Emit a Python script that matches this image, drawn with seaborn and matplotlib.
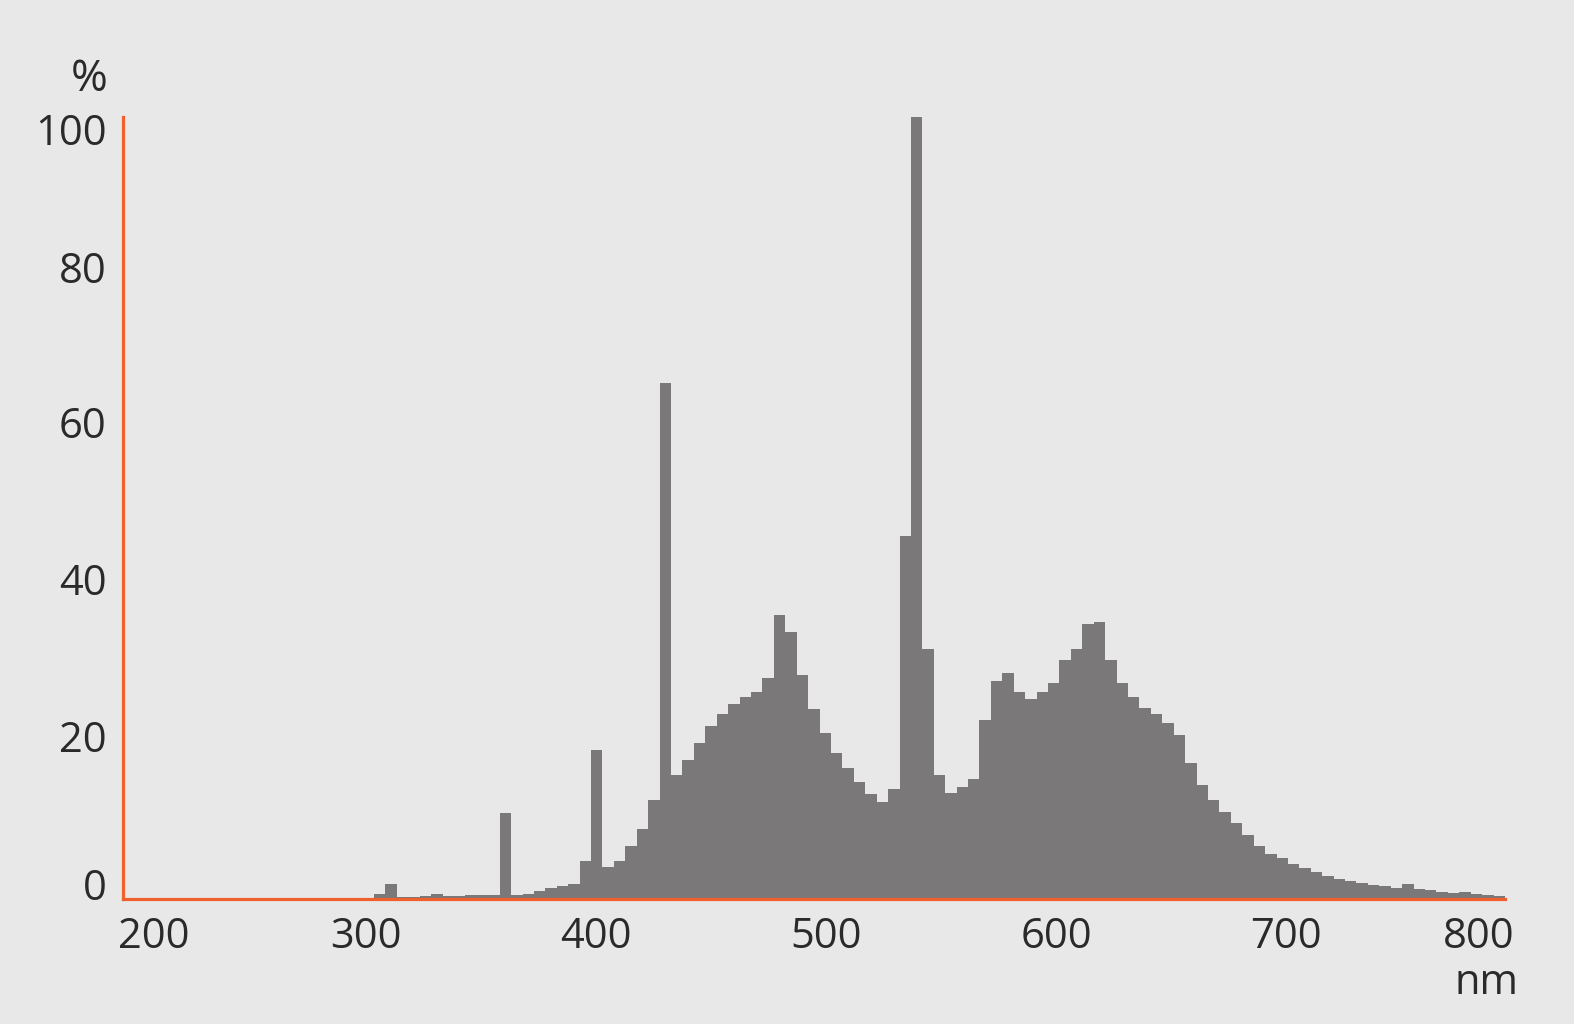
import matplotlib
matplotlib.use("Agg")
import matplotlib.pyplot as plt
import matplotlib.transforms as mtransforms
import seaborn as sns
import pandas as pd

# spectrum, 5 nm bins centred on 200..800 nm
wavelengths = list(range(200, 805, 5))
intensity = [0] * 22 + [
    0.6, 1.9, 0.2, 0.3, 0.35, 0.7, 0.4, 0.4, 0.45, 0.45,          # 310-355
    0.55, 11.0, 0.5, 0.7, 1.0, 1.4, 1.7, 1.9, 4.9, 19.0,          # 360-405
    4.1, 4.9, 6.8, 9.0, 12.7, 66.0, 15.8, 17.8, 20.0, 22.1,       # 410-455
    23.6, 24.9, 25.8, 26.5, 28.2, 36.3, 34.1, 28.6, 24.3, 21.2,   # 460-505
    18.7, 16.8, 14.9, 13.4, 12.4, 14.1, 46.4, 100.0, 31.9, 15.8,  # 510-555
    13.6, 14.3, 15.3, 22.9, 27.8, 28.9, 26.4, 25.5, 26.4, 27.6,   # 560-605
    30.5, 31.9, 35.1, 35.4, 30.5, 27.6, 25.8, 24.4, 23.6, 22.5,   # 610-655
    20.9, 17.4, 14.6, 12.6, 11.1, 9.7, 8.2, 6.8, 5.8, 5.2,        # 660-705
    4.5, 3.9, 3.5, 2.9, 2.6, 2.3, 2.1, 1.8, 1.6, 1.4,             # 710-755
    1.9, 1.3, 1.1, 0.9, 0.8, 0.9, 0.6, 0.5, 0.4,                  # 760-800
]
x_ticks = [200, 300, 400, 500, 600, 700, 800]
y_ticks = [0, 20, 40, 60, 80, 100]

bg = "#e8e8e8"
bar_col = "#7a7879"
axis_col = "#f0602c"
txt_col = "#2a2a2a"

sns.set_theme(style="white")
plt.rcParams['font.family'] = ['Open Sans', 'DejaVu Sans']

df = pd.DataFrame({"nm": wavelengths, "pct": intensity})

fig = plt.figure(figsize=(15.74, 10.24), dpi=100, facecolor=bg)
ax = fig.add_axes([0.07795, 0.12207, 0.8782, 0.76416])
ax.set_facecolor(bg)

sns.barplot(data=df, x="nm", y="pct", color=bar_col, saturation=1,
            width=1.0, errorbar=None, linewidth=0, ax=ax)

ax.set_xlim(-0.5, len(wavelengths) - 0.5)
ax.set_ylim(0, 100)
ax.set_xlabel("")
ax.set_ylabel("")

ax.set_xticks([wavelengths.index(t) for t in x_ticks])
ax.set_xticklabels([str(t) for t in x_ticks])
ax.set_yticks(y_ticks)
ax.set_yticklabels([str(t) for t in y_ticks])

for side in ["top", "right"]:
    ax.spines[side].set_visible(False)
for side in ["left", "bottom"]:
    ax.spines[side].set_color(axis_col)
    ax.spines[side].set_linewidth(2.3)

ax.tick_params(axis="both", length=0, labelsize=30, colors=txt_col)
ax.tick_params(axis="x", pad=12.5)
ax.tick_params(axis="y", pad=11.5)

# label nudges (pixels) to sit like the original
x_shift = [25, 9.5, 10.5, 12, 14, 15, -21]
for lab, dx in zip(ax.get_xticklabels(), x_shift):
    lab.set_transform(lab.get_transform() +
                      mtransforms.ScaledTranslation(dx / 100, 0, fig.dpi_scale_trans))
y_shift = [15, 7, 7.5, 7.5, 6.5, -12.5]
for lab, dy in zip(ax.get_yticklabels(), y_shift):
    lab.set_transform(lab.get_transform() +
                      mtransforms.ScaledTranslation(0, dy / 100, fig.dpi_scale_trans))

fig.text(89.5 / 1574, 1 - 79.5 / 1024, "%", ha="center", va="center",
         fontsize=32, color=txt_col)
fig.text(1518 / 1574, 1 - 983 / 1024, "nm", ha="right", va="center",
         fontsize=30, color=txt_col)

fig.savefig("out.png", dpi=100, facecolor=bg)
